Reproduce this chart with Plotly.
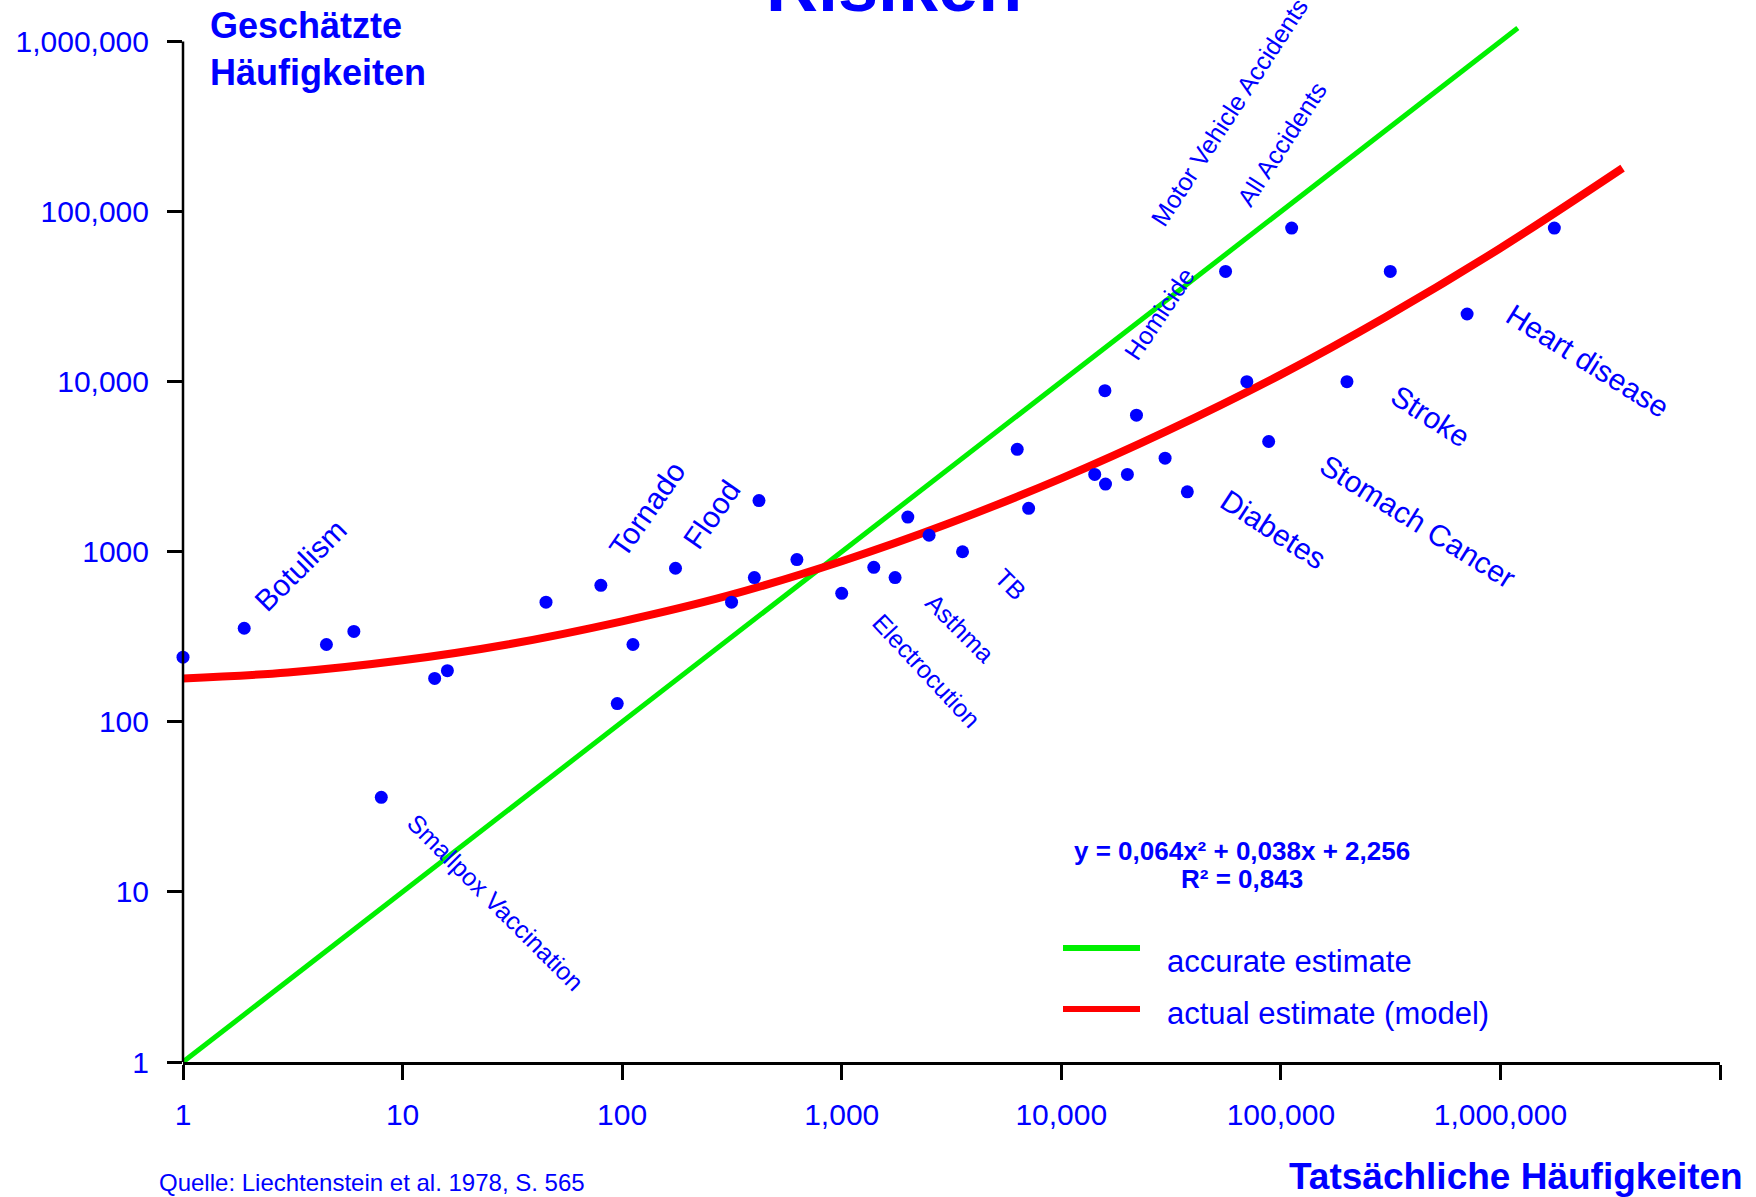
import math
import plotly.graph_objects as go

# ---------------- data ----------------
actual_freq = [1, 1.9, 4.5, 6, 8, 14, 16, 45, 80, 95, 112, 175, 315, 400, 420, 625,
               1000, 1400, 1750, 2000, 2500, 3550, 6300, 7100, 14200, 15900, 15800,
               20000, 22000, 29700, 37500, 56000, 70000, 88000, 112000, 200000,
               315000, 705000, 1760000]
estimated_freq = [240, 355, 285, 340, 36, 180, 200, 505, 635, 128, 285, 800, 505, 705,
                  2000, 900, 570, 810, 705, 1600, 1250, 1000, 4000, 1800, 2850, 2500,
                  8850, 2850, 6350, 3550, 2250, 44500, 10000, 4450, 80000, 10000,
                  44500, 25000, 80000]

label_names = ["Botulism", "Smallpox Vaccination", "Tornado", "Flood", "Electrocution",
               "Asthma", "TB", "Homicide", "Diabetes", "Motor Vehicle Accidents",
               "Stomach Cancer", "All Accidents", "Stroke", "Heart disease"]
label_point = [1, 4, 8, 11, 16, 18, 21, 26, 30, 31, 33, 34, 35, 37]

accurate_x = [1, 1200000]
accurate_y = [1, 1200000]

model_x = [1, 3, 10, 30, 100, 300, 1000, 3000, 10000, 30000, 100000, 300000, 1000000, 3600000]
model_y = [180, 195, 230, 285, 390, 550, 880, 1450, 2700, 5100, 11000, 24000, 61000, 180000]

x_tick_vals = [1, 10, 100, 1000, 10000, 100000, 1000000, 10000000]
x_tick_text = ["1", "10", "100", "1,000", "10,000", "100,000", "1,000,000", ""]
y_tick_vals = [1, 10, 100, 1000, 10000, 100000, 1000000]
y_tick_text = ["1", "10", "100", "1000", "10,000", "100,000", "1,000,000"]

# ---------------- styles ----------------
FONT = "Liberation Sans, Arial, sans-serif"
BLUE = "#0000FF"
GREEN = "#00F000"
RED = "#FF0000"

W, H = 1756, 1197
L, R, T, B = 183, 1720, 16, 1062
Y_TOP = 6.15

def px(x):
    return (x - L) / (R - L)

def py(y):
    return (B - y) / (B - T)

# label style: (dx, dy(down +), angle, size)
label_style = {
    "Botulism": (56, -63, -45, 30),
    "Smallpox Vaccination": (114, 105, 45, 25),
    "Tornado": (46, -76, -55, 30),
    "Flood": (36, -54, -55, 30),
    "Electrocution": (85, 78, 47, 25),
    "Asthma": (65, 50, 45, 25),
    "TB": (48, 32, 45, 25),
    "Homicide": (54, -77, -56, 25),
    "Diabetes": (86, 38, 33, 30),
    "Motor Vehicle Accidents": (4, -159, -57, 25),
    "Stomach Cancer": (149, 80, 32, 30),
    "All Accidents": (-10, -84, -57, 25),
    "Stroke": (84, 35, 33, 30),
    "Heart disease": (120, 47, 32, 30),
}

fig = go.Figure()

fig.add_trace(go.Scatter(x=accurate_x, y=accurate_y, mode="lines",
                         line=dict(color=GREEN, width=5), name="accurate estimate",
                         showlegend=False, hoverinfo="skip"))
fig.add_trace(go.Scatter(x=model_x, y=model_y, mode="lines",
                         line=dict(color=RED, width=8, shape="spline"),
                         name="actual estimate (model)", showlegend=False, hoverinfo="skip"))
fig.add_trace(go.Scatter(x=actual_freq, y=estimated_freq, mode="markers",
                         marker=dict(color=BLUE, size=13), cliponaxis=False,
                         showlegend=False))

annotations = []
for name, idx in zip(label_names, label_point):
    dx, dy, ang, size = label_style[name]
    annotations.append(dict(
        x=math.log10(actual_freq[idx]), y=math.log10(estimated_freq[idx]),
        xref="x", yref="y", text=name, showarrow=False,
        xanchor="center", yanchor="middle", xshift=dx, yshift=-dy,
        textangle=ang, font=dict(family=FONT, size=size, color=BLUE)))

annotations += [
    dict(x=px(893.5), y=py(-14), xref="paper", yref="paper", text="<b>Risiken</b>",
         showarrow=False, xanchor="center", yanchor="middle",
         font=dict(family=FONT, size=72, color=BLUE)),
    dict(x=px(208), y=py(49), xref="paper", yref="paper",
         text="<b>Geschätzte<br>Häufigkeiten</b>", showarrow=False,
         xanchor="left", yanchor="middle", align="left",
         font=dict(family=FONT, size=36, color=BLUE)),
    dict(x=px(1516), y=py(1176), xref="paper", yref="paper",
         text="<b>Tatsächliche Häufigkeiten</b>", showarrow=False,
         xanchor="center", yanchor="middle",
         font=dict(family=FONT, size=37, color=BLUE)),
    dict(x=px(157), y=py(1182), xref="paper", yref="paper",
         text="Quelle: Liechtenstein et al. 1978, S. 565", showarrow=False,
         xanchor="left", yanchor="middle",
         font=dict(family=FONT, size=24, color=BLUE)),
    dict(x=px(1241.5), y=py(851), xref="paper", yref="paper",
         text="<b>y = 0,064x² + 0,038x + 2,256</b>", showarrow=False,
         xanchor="center", yanchor="middle",
         font=dict(family=FONT, size=26, color=BLUE)),
    dict(x=px(1241.5), y=py(879), xref="paper", yref="paper",
         text="<b>R² = 0,843</b>", showarrow=False,
         xanchor="center", yanchor="middle",
         font=dict(family=FONT, size=26, color=BLUE)),
    dict(x=px(1165), y=py(961), xref="paper", yref="paper",
         text="accurate estimate", showarrow=False,
         xanchor="left", yanchor="middle",
         font=dict(family=FONT, size=31, color=BLUE)),
    dict(x=px(1165), y=py(1013.5), xref="paper", yref="paper",
         text="actual estimate (model)", showarrow=False,
         xanchor="left", yanchor="middle",
         font=dict(family=FONT, size=31, color=BLUE)),
]

shapes = [
    # y axis line up to 1,000,000
    dict(type="line", xref="paper", yref="paper", x0=0, x1=0, y0=0, y1=6 / Y_TOP,
         line=dict(color="black", width=2.5)),
    # legend samples
    dict(type="line", xref="paper", yref="paper", x0=px(1063), x1=px(1140),
         y0=py(948), y1=py(948), line=dict(color=GREEN, width=6)),
    dict(type="line", xref="paper", yref="paper", x0=px(1063), x1=px(1140),
         y0=py(1009), y1=py(1009), line=dict(color=RED, width=6)),
]

fig.update_layout(
    width=W, height=H,
    margin=dict(l=L, r=W - R, t=T, b=H - B, pad=0),
    paper_bgcolor="white", plot_bgcolor="white",
    font=dict(family=FONT, color=BLUE),
    showlegend=False,
    annotations=annotations,
    shapes=shapes,
)
fig.update_xaxes(type="log", range=[0, 7], showgrid=False, zeroline=False,
                 showline=True, linecolor="black", linewidth=3,
                 tickmode="array", tickvals=x_tick_vals, ticktext=x_tick_text,
                 ticks="outside", ticklen=15, tickwidth=3, tickcolor="black",
                 ticklabelstandoff=9,
                 tickfont=dict(family=FONT, size=30, color=BLUE))
fig.update_yaxes(type="log", range=[0, Y_TOP], showgrid=False, zeroline=False,
                 showline=False,
                 tickmode="array", tickvals=y_tick_vals, ticktext=y_tick_text,
                 ticks="outside", ticklen=15, tickwidth=3, tickcolor="black",
                 ticklabelstandoff=12,
                 tickfont=dict(family=FONT, size=30, color=BLUE))

fig.write_html("out.html", config={"displayModeBar": False},
               post_script="document.body.style.margin='0';")
